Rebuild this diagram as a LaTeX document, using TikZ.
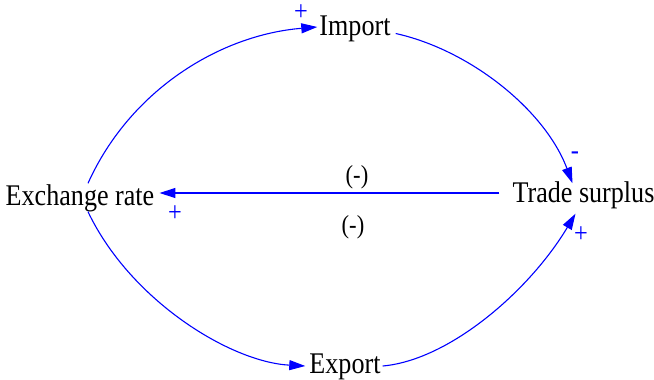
\documentclass[tikz,border=0pt]{standalone}
\usepackage{fontspec}
\setmainfont{Liberation Serif}
\newfontfamily\tms[FakeStretch=0.87]{Liberation Serif}
\usetikzlibrary{arrows.meta}
\definecolor{linkblue}{RGB}{0,0,255}
\begin{document}
\begin{tikzpicture}[x=1pt,y=-1pt,
  var/.style={inner sep=0pt,text height=18.5pt,text depth=5.5pt,font=\tms\fontsize{30}{34}\selectfont,anchor=base},
  arr/.style={draw=linkblue,line width=1.1pt,-{Triangle[length=16pt,width=10pt]}},
  pol/.style={text=linkblue,inner sep=0pt,font=\tms\fontsize{28}{30}\selectfont},
  delay/.style={inner sep=0pt,font=\tms\fontsize{26}{28}\selectfont}]
\useasboundingbox (0,0) rectangle (654,380);
\node[var] (im) at (355,35) {Import};
\node[var] (ts) at (583.5,202) {Trade surplus};
\node[var] (ex) at (80,205) {Exchange rate};
\node[var] (exp) at (345,373.5) {Export};
\coordinate (tsl) at ([xshift=-13pt,yshift=2.5pt]ts.west);
\coordinate (exr) at ([xshift=5pt]ex.east |- tsl);
% links
\draw[arr] ([xshift=8pt,yshift=3pt]ex.north) .. controls (130,90) and (220,35) .. ([xshift=-2pt,yshift=1.5pt]im.west);
\draw[arr] ([xshift=5pt,yshift=-5pt]im.east) .. controls (470,50) and (545,110) .. ([xshift=-11pt]ts.north);
\draw[arr] (tsl) -- (exr);
\draw[arr] ([xshift=8pt,yshift=-1pt]ex.south) .. controls (130,300) and (230,362) .. ([xshift=-4pt,yshift=1pt]exp.west);
\draw[arr] ([xshift=2pt,yshift=1pt]exp.east) .. controls (450,360) and (530,290) .. ([xshift=-8pt,yshift=-6pt]ts.south);
% polarities
\node[pol] (p1) at (301,13) {+};
\node[pol] (p2) at (575,156) {-};
\node[pol] (p3) at (175,214) {+};
\node[pol] (p4) at (581,235) {+};
\node[delay] (d1) at (357,177) {(-)};
\node[delay] (d2) at (353,227) {(-)};
\end{tikzpicture}
\end{document}
